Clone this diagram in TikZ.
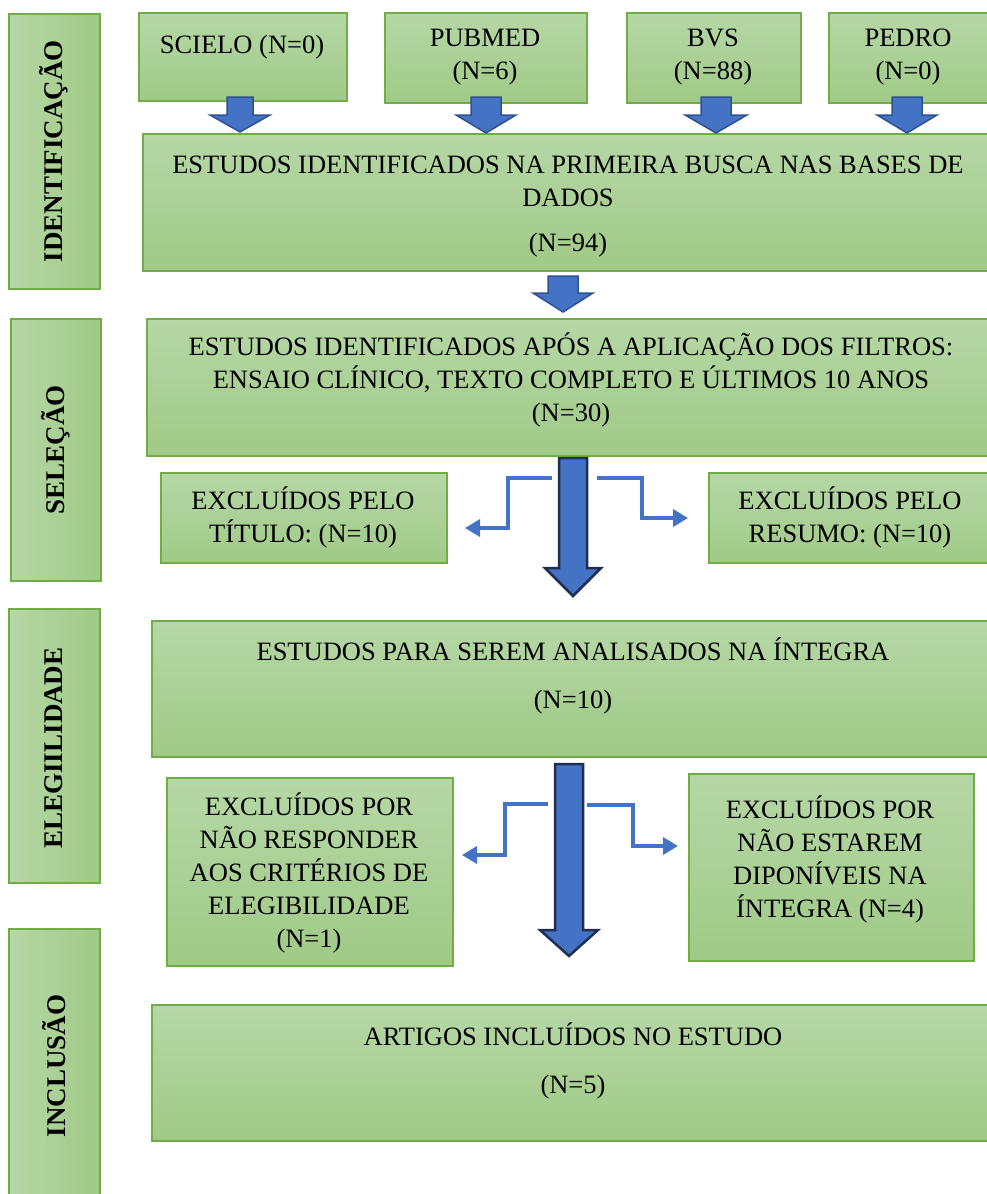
\documentclass[tikz,border=0pt]{standalone}
\usepackage{fontspec}
\setmainfont{Liberation Serif}
\usetikzlibrary{arrows.meta}
\definecolor{gl}{RGB}{182,215,166}
\definecolor{gd}{RGB}{160,202,135}
\definecolor{gb}{RGB}{112,173,71}
\definecolor{ab}{RGB}{68,114,196}
\definecolor{abs}{RGB}{47,82,143}
\definecolor{abd}{RGB}{31,47,80}
\newcommand{\barrow}[7]{% style, cx, ytop, shaft half, head half, yhead, ytip
  \draw[#1] (#2-#4,#3) -- (#2+#4,#3) -- (#2+#4,#6) -- (#2+#5,#6) -- (#2,#7)
    -- (#2-#5,#6) -- (#2-#4,#6) -- cycle;}
\tikzset{
  gbox/.style={draw=gb, line width=1.5pt, top color=gl, bottom color=gd, anchor=north west, inner sep=0pt},
  sbox/.style={draw=gb, line width=1.5pt, left color=gl, right color=gd, anchor=north west, inner sep=0pt},
  txt/.style={font=\fontsize{26.5}{33}\selectfont, align=center, inner sep=0pt, text=black},
  stxt/.style={font=\fontsize{27}{33}\selectfont\bfseries, rotate=90, inner sep=0pt, text=black},
  smallarr/.style={fill=ab, draw=abs, line width=1.5pt, line join=miter},
  bigarr/.style={fill=ab, draw=abd, line width=2.5pt, line join=miter},
  brarr/.style={draw=ab, line width=3.5pt, -{Triangle[length=15pt,width=17pt]}}
}
\begin{document}
\begin{tikzpicture}[x=1pt,y=-1pt]
\clip (0,0) rectangle (987,1194);
\fill[white] (0,0) rectangle (987,1194);

% side labels
\node[sbox, minimum width=91pt, minimum height=275pt] (sid) at (8,13) {};
\node[sbox, minimum width=90pt, minimum height=262pt] (ssel) at (10,318) {};
\node[sbox, minimum width=91pt, minimum height=274pt] (seleg) at (8,608) {};
\node[sbox, minimum width=91pt, minimum height=275pt] (sinc) at (8,928) {};
\node[stxt] (tid) at (54,151) {IDENTIFICAÇÃO};
\node[stxt] (tsel) at (56,450) {SELEÇÃO};
\node[stxt] (teleg) at (54,748) {ELEGIILIDADE};
\node[stxt] (tinc) at (54,1066) {INCLUSÃO};

% database boxes
\node[gbox, minimum width=208pt, minimum height=88pt] (scielo) at (138,12) {};
\node[gbox, minimum width=202pt, minimum height=90pt] (pubmed) at (384,12) {};
\node[gbox, minimum width=174pt, minimum height=90pt] (bvs) at (626,12) {};
\node[gbox, minimum width=170pt, minimum height=90pt] (pedro) at (828,12) {};
\node[txt] (tscielo) at (242,47) {SCIELO (N=0)};
\node[txt] (tpubmed) at (485,57) {PUBMED\\(N=6)};
\node[txt] (tbvs) at (713,57) {BVS\\(N=88)};
\node[txt] (tpedro) at (908,57) {PEDRO\\(N=0)};

% main boxes
\node[gbox, minimum width=850pt, minimum height=137pt] (b1) at (142,133) {};
\node[txt] (tb1) at (568,181) {ESTUDOS IDENTIFICADOS NA PRIMEIRA BUSCA NAS BASES DE\\DADOS};
\node[txt] (tb1n) at (568,245) {(N=94)};

\node[gbox, minimum width=846pt, minimum height=137pt] (b2) at (146,318) {};
\node[txt] (tb2) at (571,380) {ESTUDOS IDENTIFICADOS APÓS A APLICAÇÃO DOS FILTROS:\\ENSAIO CLÍNICO, TEXTO COMPLETO E ÚLTIMOS 10 ANOS\\(N=30)};

\node[gbox, minimum width=286pt, minimum height=90pt] (e1) at (160,472) {};
\node[txt] (te1) at (303,517) {EXCLUÍDOS PELO\\TÍTULO: (N=10)};
\node[gbox, minimum width=284pt, minimum height=90pt] (e2) at (708,472) {};
\node[txt] (te2) at (850,517) {EXCLUÍDOS PELO\\RESUMO: (N=10)};

\node[gbox, minimum width=841pt, minimum height=136pt] (b3) at (151,620) {};
\node[txt] (tb3) at (573,649) {ESTUDOS PARA SEREM ANALISADOS NA ÍNTEGRA};
\node[txt] (tb3n) at (573,702) {(N=10)};

\node[gbox, minimum width=286pt, minimum height=188pt] (e3) at (166,777) {};
\node[txt] (te3) at (309,873) {EXCLUÍDOS POR\\NÃO RESPONDER\\AOS CRITÉRIOS DE\\ELEGIBILIDADE\\(N=1)};
\node[gbox, minimum width=285pt, minimum height=187pt] (e4) at (688,773) {};
\node[txt] (te4) at (830,859) {EXCLUÍDOS POR\\NÃO ESTAREM\\DIPONÍVEIS NA\\ÍNTEGRA (N=4)};

\node[gbox, minimum width=841pt, minimum height=136pt] (b4) at (151,1004) {};
\node[txt] (tb4) at (573,1034) {ARTIGOS INCLUÍDOS NO ESTUDO};
\node[txt] (tb4n) at (573,1087) {(N=5)};

% block arrows
\barrow{smallarr}{240}{97}{13}{30}{115}{132}
\barrow{smallarr}{486}{97}{15}{30}{115}{133}
\barrow{smallarr}{716}{97}{15}{31}{115}{133}
\barrow{smallarr}{907}{97}{15}{30}{115}{133}
\barrow{smallarr}{563}{276}{15}{30}{293}{312}
\barrow{bigarr}{573}{458}{14}{28}{568}{596}
\barrow{bigarr}{569}{764}{14}{29}{930}{956}

% branch arrows
\coordinate (s1) at (552,478);
\coordinate (s1e) at (465,528);
\coordinate (s2) at (597,478);
\coordinate (s2e) at (688,518);
\coordinate (s3) at (548,804);
\coordinate (s3e) at (462,855);
\coordinate (s4) at (587,805);
\coordinate (s4e) at (678,846);
\draw[brarr] (s1) -- (508,478) -- (508,528) -- (s1e);
\draw[brarr] (s2) -- (642,478) -- (642,518) -- (s2e);
\draw[brarr] (s3) -- (505,804) -- (505,855) -- (s3e);
\draw[brarr] (s4) -- (633,805) -- (633,846) -- (s4e);
\end{tikzpicture}
\end{document}
